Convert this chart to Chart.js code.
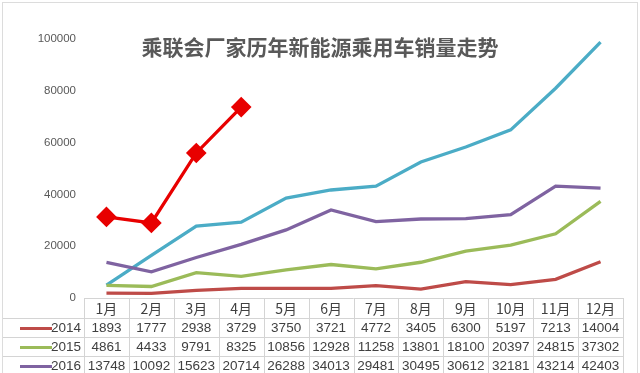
<!DOCTYPE html>
<html>
<head>
<meta charset="utf-8">
<script src="https://cdn.jsdelivr.net/npm/chart.js@4/dist/chart.umd.min.js"></script>
<style>
  html, body { margin: 0; padding: 0; background: #fff; }
  #wrap { width: 640px; height: 373px; position: relative; }
</style>
</head>
<body>
<div id="wrap"><canvas id="sales-chart"></canvas></div>
<script>
const months = ['1月', '2月', '3月', '4月', '5月', '6月', '7月', '8月', '9月', '10月', '11月', '12月'];
const sales2014 = [1893, 1777, 2938, 3729, 3750, 3721, 4772, 3405, 6300, 5197, 7213, 14004];
const sales2015 = [4861, 4433, 9791, 8325, 10856, 12928, 11258, 13801, 18100, 20397, 24815, 37302];
const sales2016 = [13748, 10092, 15623, 20714, 26288, 34013, 29481, 30495, 30612, 32181, 43214, 42403];
const sales2017 = [5000, 16500, 27800, 29300, 38600, 41700, 43200, 52500, 58300, 64900, 81000, 98800];
const sales2018 = [31300, 29000, 56000, 73700];
const yTicks = [0, 20000, 40000, 60000, 80000, 100000];

const chartTitle = '乘联会厂家历年新能源乘用车销量走势';
const gridColor = '#d4d4d4';
const textColor = '#595959';

// draws the title, outer frame and the data table under the plot
const tablePlugin = {
  id: 'dataTable',
  afterDraw(chart) {
    const ctx = chart.ctx;
    const x = chart.scales.x;
    const area = chart.chartArea;
    const colW = (area.right - area.left) / months.length;
    const rowTops = [area.bottom, 318, 337, 356, 375];

    ctx.save();
    // outer frame
    ctx.strokeStyle = '#dcdcdc';
    ctx.lineWidth = 1;
    ctx.strokeRect(2.5, 2.5, 635, 372);

    // title
    ctx.fillStyle = textColor;
    ctx.font = 'bold 21px "Noto Sans CJK SC", sans-serif';
    ctx.textAlign = 'center';
    ctx.textBaseline = 'middle';
    ctx.fillText(chartTitle, 320, 47);

    // table grid
    ctx.strokeStyle = gridColor;
    ctx.beginPath();
    rowTops.forEach((y, i) => {
      const startX = i === 0 ? area.left : 3;
      ctx.moveTo(startX, Math.round(y) + 0.5);
      ctx.lineTo(area.right, Math.round(y) + 0.5);
    });
    for (let i = 0; i <= months.length; i++) {
      const lx = Math.round(area.left + i * colW) + 0.5;
      ctx.moveTo(lx, area.bottom);
      ctx.lineTo(lx, 373);
    }
    ctx.stroke();

    // header
    ctx.font = '14px "Noto Sans CJK SC", sans-serif';
    ctx.fillStyle = '#404040';
    months.forEach((m, i) => {
      ctx.fillText(m, x.getPixelForValue(i), (rowTops[0] + rowTops[1]) / 2 + 1);
    });

    // rows for the years shown in the table
    const rows = chart.data.datasets.slice(0, 3);
    ctx.font = '13.5px "Liberation Sans", Arial, sans-serif';
    rows.forEach((ds, r) => {
      const cy = (rowTops[r + 1] + rowTops[r + 2]) / 2 + 1;
      ctx.strokeStyle = ds.borderColor;
      ctx.lineWidth = 3;
      ctx.beginPath();
      ctx.moveTo(20, cy);
      ctx.lineTo(52, cy);
      ctx.stroke();
      ctx.fillStyle = '#404040';
      ctx.textAlign = 'right';
      ctx.fillText(ds.label, 81, cy);
      ctx.textAlign = 'center';
      ds.data.forEach((v, i) => {
        ctx.fillText(String(v), x.getPixelForValue(i), cy);
      });
    });
    ctx.restore();
  }
};

new Chart(document.getElementById('sales-chart').getContext('2d'), {
  type: 'line',
  data: {
    labels: months,
    datasets: [
      { label: '2014', data: sales2014, borderColor: '#be4b48' },
      { label: '2015', data: sales2015, borderColor: '#9bbb59' },
      { label: '2016', data: sales2016, borderColor: '#7f63a1' },
      { label: '2017', data: sales2017, borderColor: '#4bacc6' },
      {
        label: '2018', data: sales2018, borderColor: '#e80000',
        backgroundColor: '#e80000', pointStyle: 'rectRot', pointRadius: 8, pointHoverRadius: 8
      }
    ].map(ds => Object.assign({ borderWidth: 3.3, pointRadius: 0, tension: 0, fill: false }, ds))
  },
  options: {
    responsive: true,
    maintainAspectRatio: false,
    animation: false,
    layout: { padding: { left: 0, right: 17, top: 39, bottom: 75 } },
    plugins: {
      legend: { display: false },
      title: { display: false },
      tooltip: { enabled: false }
    },
    scales: {
      x: {
        offset: true,
        grid: { display: false },
        border: { display: false },
        ticks: { display: false },
        afterFit: s => { s.height = 0; }
      },
      y: {
        min: 0,
        max: 100000,
        afterBuildTicks: s => { s.ticks = yTicks.map(v => ({ value: v })); },
        grid: { display: false, drawTicks: false },
        border: { display: false },
        ticks: {
          padding: 8,
          color: textColor,
          font: { family: '"Liberation Sans", Arial, sans-serif', size: 11.5 },
          callback: v => String(v)
        },
        afterFit: s => { s.width = 84; }
      }
    }
  },
  plugins: [tablePlugin]
});
</script>
</body>
</html>
